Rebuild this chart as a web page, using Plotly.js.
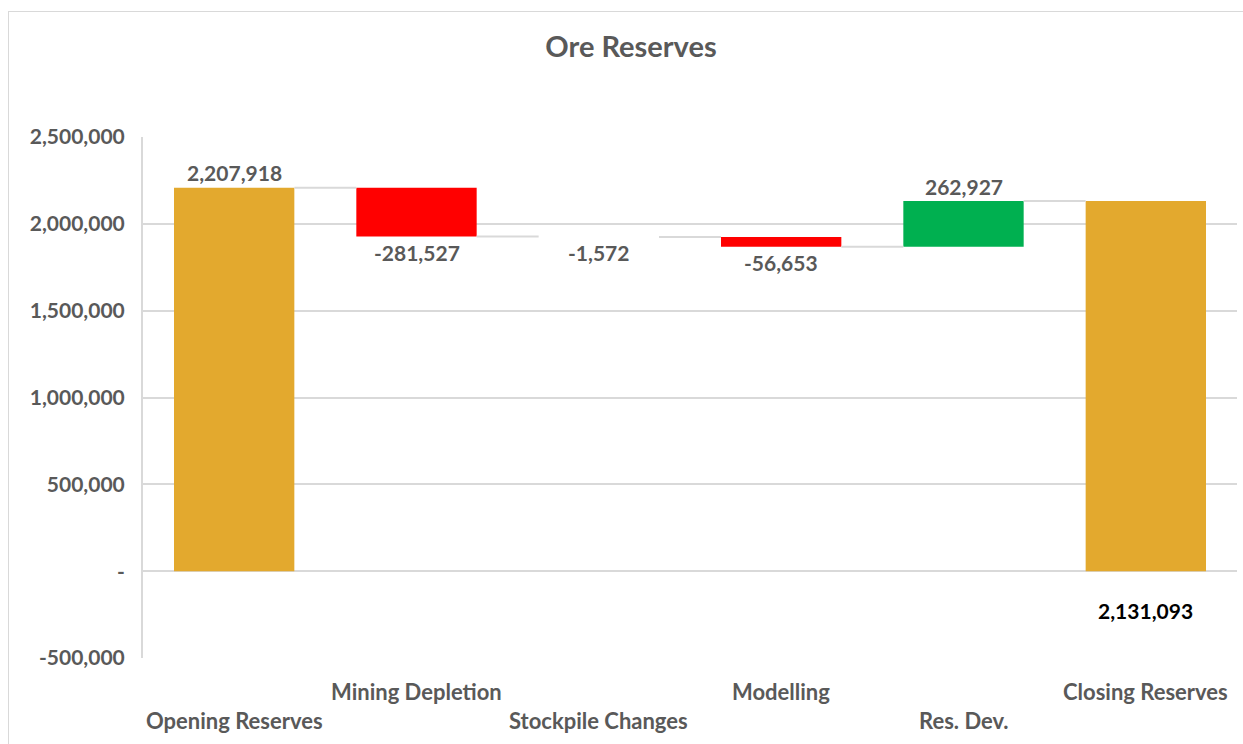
<!DOCTYPE html>
<html>
<head>
<meta charset="utf-8">
<script src="https://cdn.plot.ly/plotly-3.0.1.min.js"></script>
<style>
html,body{margin:0;padding:0;background:#fff;}
#frame{position:absolute;left:8px;top:11px;width:1250px;height:750px;border:1.5px solid #d9d9d9;box-sizing:border-box;}
#chart{position:absolute;left:0;top:0;width:1243px;height:744px;}
</style>
</head>
<body>
<div id="frame"></div>
<div id="chart"></div>
<script>
const categories = ["Opening Reserves", "Mining Depletion", "Stockpile Changes", "Modelling", "Res. Dev.", "Closing Reserves"];
const values = [2207918, -281527, -1572, -56653, 262927, 2131093];
const measures = ["absolute", "relative", "relative", "relative", "relative", "total"];
const tickVals = [-500000, 0, 500000, 1000000, 1500000, 2000000, 2500000];
const tickText = ["-500,000", "-", "500,000", "1,000,000", "1,500,000", "2,000,000", "2,500,000"];

const FONT = "Lato, 'Open Sans', sans-serif";
const GREY = "#595959";
const GRID = "#d9d9d9";
const fmt = v => (v < 0 ? "-" : "") + Math.abs(v).toLocaleString("en-US");

const Y_RANGE = [-500000, 2500000];
const PLOT_H = 744 - 137 - 86;
const pxPerUnit = PLOT_H / (Y_RANGE[1] - Y_RANGE[0]);
const BAR_W = 0.66;

// build waterfall geometry from the data
const bases = [], heights = [], colors = [], opac = [], ends = [];
let cum = 0;
values.forEach((v, i) => {
  const m = measures[i];
  if (m === "absolute" || m === "total") {
    cum = v; bases.push(0); heights.push(v); colors.push("#E3A92E");
  } else {
    bases.push(cum); heights.push(v); cum += v;
    colors.push(v >= 0 ? "#00B050" : "#FF0000");
  }
  ends.push(cum);
  // sub-pixel bars are not drawn (as in the original)
  opac.push(Math.abs(heights[i]) * pxPerUnit < 1 ? 0 : 1);
});

const trace = {
  type: "bar",
  x: categories.map((c, i) => i),
  y: heights,
  base: bases,
  width: BAR_W,
  marker: {color: colors, opacity: opac, line: {width: 0}},
  hoverinfo: "none"
};

// connectors between bars
const shapes = [];
for (let i = 0; i < values.length - 1; i++) {
  shapes.push({type: "line", xref: "x", yref: "y",
    x0: i + BAR_W / 2, x1: i + 1 - BAR_W / 2, y0: ends[i], y1: ends[i],
    line: {color: GRID, width: 2}});
}

// data labels
const annotations = [];
values.forEach((v, i) => {
  const m = measures[i];
  if (m === "total") {
    annotations.push({x: i, y: 0, yshift: -39, text: "<b>" + fmt(v) + "</b>",
      showarrow: false, font: {family: FONT, size: 21, color: "#000000"}});
  } else if (v >= 0) {
    annotations.push({x: i, y: ends[i], yshift: 15, text: "<b>" + fmt(v) + "</b>",
      showarrow: false, font: {family: FONT, size: 21, color: GREY}});
  } else {
    annotations.push({x: i, y: ends[i], yshift: -16, text: "<b>" + fmt(v) + "</b>",
      showarrow: false, font: {family: FONT, size: 21, color: GREY}});
  }
});
// staggered category labels
categories.forEach((c, i) => {
  annotations.push({x: i, xref: "x", y: 0, yref: "paper", yanchor: "middle",
    yshift: i % 2 === 0 ? -62 : -33, text: "<b>" + c + "</b>", showarrow: false,
    font: {family: FONT, size: 22, color: GREY}});
});

const layout = {
  width: 1243, height: 744,
  margin: {l: 143, r: 6, t: 137, b: 86},
  paper_bgcolor: "rgba(0,0,0,0)",
  plot_bgcolor: "rgba(0,0,0,0)",
  showlegend: false,
  title: {text: "<b>Ore Reserves</b>", x: 631 / 1243, xref: "container", xanchor: "center",
    y: 1 - 47 / 744, yref: "container", yanchor: "middle",
    font: {family: FONT, size: 29, color: GREY}},
  xaxis: {range: [-0.5, categories.length - 0.5], showticklabels: false, showgrid: false,
    zeroline: false, ticks: "", fixedrange: true},
  yaxis: {range: Y_RANGE, tickvals: tickVals, ticktext: tickText,
    showgrid: true, gridcolor: GRID, gridwidth: 2,
    zeroline: true, zerolinecolor: GRID, zerolinewidth: 2,
    showline: true, linecolor: GRID, linewidth: 2,
    ticks: "", ticklabelstandoff: 12,
    tickfont: {family: FONT, size: 21, color: GREY, weight: "bold"}},
  shapes: shapes,
  annotations: annotations
};

Plotly.newPlot("chart", [trace], layout, {displayModeBar: false, staticPlot: true});
</script>
</body>
</html>
